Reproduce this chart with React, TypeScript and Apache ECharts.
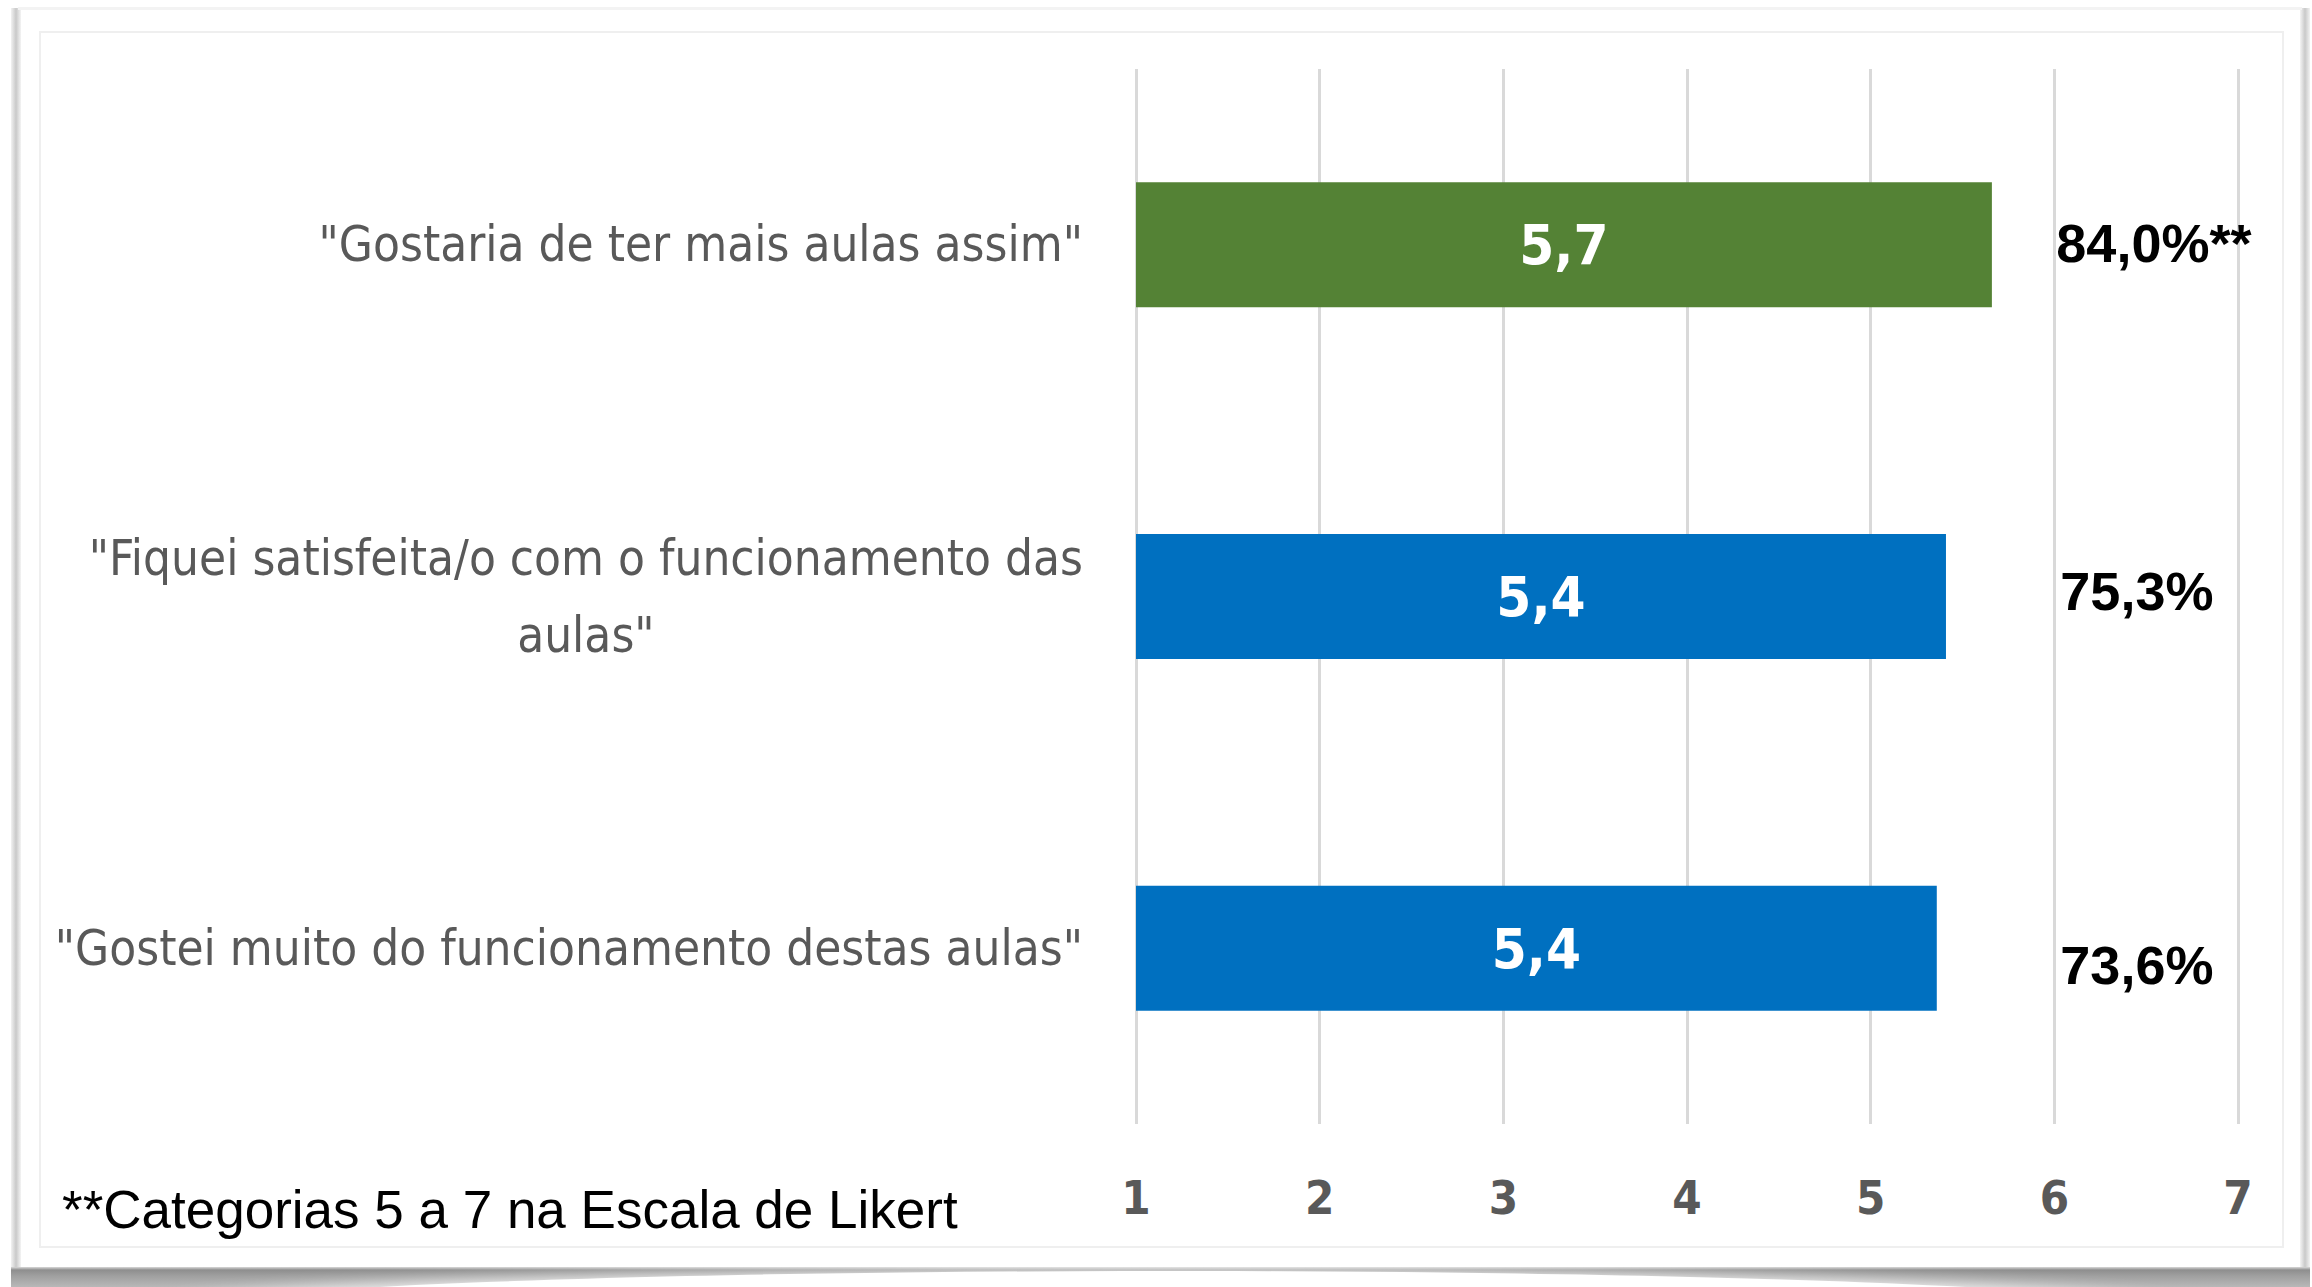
import React, { useEffect, useRef } from "react";
import * as echarts from "echarts";

// ---- data ----
const CATEGORIES = [
  '"Gostaria de ter mais aulas assim"',
  '"Fiquei satisfeita/o com o funcionamento das\naulas"',
  '"Gostei muito do funcionamento destas aulas"',
];
const MEANS = [5.66, 5.41, 5.36];
const PERCENTS = ["84,0%**", "75,3%", "73,6%"];
const X_MIN = 1;
const X_MAX = 7;
const FOOTNOTE = "**Categorias 5 a 7 na Escala de Likert";

// ---- styles ----
const BAR_COLORS = ["#548235", "#0070C0", "#0070C0"];
const PCT_NUDGE = [[2, -2], [6, -6], [6, 17]];

function hasFont(name: string): boolean {
  const ctx = document.createElement("canvas").getContext("2d");
  if (!ctx) return false;
  const t = "abcdefghijklmnopqrstuvwxyz ABCDEFGHIJ 0123456789";
  ctx.font = "40px monospace";
  const a = ctx.measureText(t).width;
  ctx.font = `40px "${name}", monospace`;
  const b = ctx.measureText(t).width;
  return Math.abs(a - b) > 0.5;
}

function measure(text: string, font: string): number {
  const ctx = document.createElement("canvas").getContext("2d");
  if (!ctx) return text.length * 20;
  ctx.font = font;
  return ctx.measureText(text).width;
}

export default function App() {
  const ref = useRef<HTMLDivElement>(null);

  useEffect(() => {
    if (!ref.current) return;
    const narrow = hasFont("Liberation Sans Narrow")
      ? "Liberation Sans Narrow"
      : hasFont("DejaVu Sans Condensed")
      ? "DejaVu Sans Condensed"
      : "Liberation Sans";
    const narrowCss = `"${narrow}"`;

    // fit category font to the reference width of the longest label line
    const longest = CATEGORIES[2];
    const w100 = measure(longest, `100px ${narrowCss}`);
    const catSize = Math.round((100 * 1025) / w100);
    const blockW = Math.max(
      ...CATEGORIES.filter((c) => c.includes("\n")).flatMap((c) =>
        c.split("\n").map((l) => measure(l, `${catSize}px ${narrowCss}`))
      )
    );

    const chart = echarts.init(ref.current, null, { renderer: "svg" });
    const grey = "#595959";

    chart.setOption({
      animation: false,
      backgroundColor: "#ffffff",
      grid: {
        left: 1136,
        right: 74,
        top: 69,
        bottom: 163,
        containLabel: false,
        outerBoundsMode: "none",
      },
      xAxis: {
        type: "value",
        min: X_MIN,
        max: X_MAX,
        interval: 1,
        axisLine: { show: false },
        axisTick: { show: false },
        splitLine: { show: true, lineStyle: { color: "#d9d9d9", width: 3 } },
        axisLabel: {
          margin: 50,
          color: grey,
          fontWeight: "bold",
          fontFamily: narrowCss,
          fontSize: 47,
        },
      },
      yAxis: {
        type: "category",
        inverse: true,
        data: CATEGORIES,
        axisLine: { show: false },
        axisTick: { show: false },
        axisLabel: {
          margin: 53,
          align: "right",
          color: grey,
          fontFamily: narrowCss,
          fontSize: catSize,
          lineHeight: 77,
          formatter: (v: string) =>
            v.includes("\n")
              ? v
                  .split("\n")
                  .map((l) => `{c|${l}}`)
                  .join("\n")
              : v,
          rich: {
            c: {
              width: blockW,
              align: "center",
              color: grey,
              fontFamily: narrowCss,
              fontSize: catSize,
              lineHeight: 77,
            },
          },
        },
      },
      series: [
        {
          type: "bar",
          barWidth: 125,
          clip: true,
          data: MEANS.map((v, i) => ({
            value: v,
            itemStyle: { color: BAR_COLORS[i] },
          })),
          label: {
            show: true,
            position: "inside",
            color: "#ffffff",
            fontWeight: "bold",
            fontFamily: narrowCss,
            fontSize: 56,
            formatter: (p: any) => Number(p.value).toFixed(1).replace(".", ","),
          },
        },
        {
          type: "scatter",
          symbolSize: 0,
          silent: true,
          itemStyle: { opacity: 1 },
          data: CATEGORIES.map((c, i) => ({
            value: [6, c],
            label: { offset: PCT_NUDGE[i] },
          })),
          label: {
            show: true,
            position: "right",
            distance: 0,
            color: "#000000",
            opacity: 1,
            textBorderWidth: 0,
            fontWeight: "bold",
            fontFamily: '"Liberation Sans", Arial, sans-serif',
            fontSize: 54,
            formatter: (p: any) => PERCENTS[p.dataIndex],
          },
        },
      ],
      graphic: [
        // left / right frame shadows
        {
          type: "rect",
          silent: true,
          z: -10,
          shape: { x: 11, y: 8, width: 10, height: 1262 },
          style: {
            fill: new echarts.graphic.LinearGradient(0, 0, 1, 0, [
              { offset: 0, color: "#f2f2f2" },
              { offset: 0.5, color: "#c9c9c9" },
              { offset: 1, color: "#f4f4f4" },
            ]),
          },
        },
        {
          type: "rect",
          silent: true,
          z: -10,
          shape: { x: 2300, y: 8, width: 10, height: 1262 },
          style: {
            fill: new echarts.graphic.LinearGradient(0, 0, 1, 0, [
              { offset: 0, color: "#f4f4f4" },
              { offset: 0.5, color: "#c9c9c9" },
              { offset: 1, color: "#f2f2f2" },
            ]),
          },
        },
        // top faint edge
        {
          type: "rect",
          silent: true,
          z: -10,
          shape: { x: 18, y: 7, width: 2284, height: 3 },
          style: { fill: "#f3f3f3" },
        },
        // bottom shadow band
        {
          type: "rect",
          silent: true,
          z: -10,
          shape: { x: 11, y: 1267, width: 2299, height: 20 },
          style: {
            fill: new echarts.graphic.LinearGradient(0, 0, 0, 1, [
              { offset: 0, color: "#d8d8d8" },
              { offset: 0.15, color: "#8e8e8e" },
              { offset: 0.45, color: "#a0a0a0" },
              { offset: 1, color: "#b8b8b8" },
            ]),
          },
        },
        // white curved bulge in the middle of the shadow
        {
          type: "ellipse",
          silent: true,
          z: -9,
          shape: { cx: 1170, cy: 1312, rx: 1000, ry: 41 },
          style: {
            fill: "#ffffff",
            shadowBlur: 18,
            shadowColor: "#ffffff",
          },
        },
        // inner panel border
        {
          type: "rect",
          silent: true,
          z: -8,
          shape: { x: 40, y: 32, width: 2243, height: 1215 },
          style: { fill: "none", stroke: "#efefef", lineWidth: 2 },
        },
        // footnote
        {
          type: "text",
          silent: true,
          x: 62,
          y: 1209,
          style: {
            text: FOOTNOTE,
            fill: "#000000",
            fontFamily: '"Liberation Sans", Arial, sans-serif',
            fontSize: 53,
            align: "left",
            verticalAlign: "middle",
          },
        },
      ],
    });

    return () => chart.dispose();
  }, []);

  return (
    <div
      ref={ref}
      style={{
        position: "fixed",
        left: 0,
        top: 0,
        width: 2312,
        height: 1287,
        background: "#ffffff",
      }}
    />
  );
}
